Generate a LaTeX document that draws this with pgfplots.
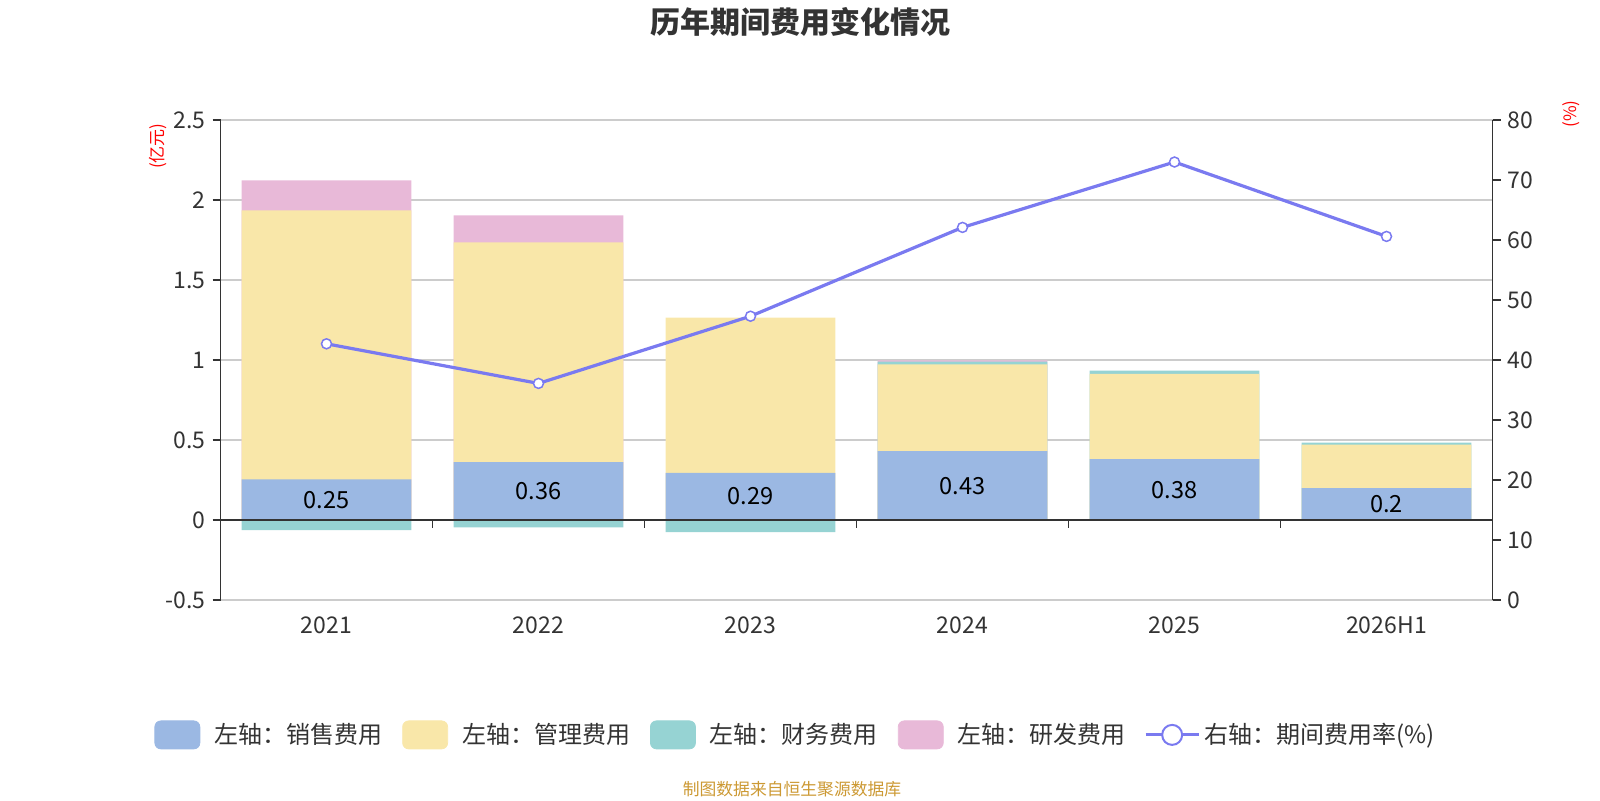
\documentclass[border=0pt]{standalone}
\usepackage{pgfplots}
\pgfplotsset{compat=1.18}
\usepackage{fontspec}
\setmainfont{Noto Sans CJK SC}
\definecolor{cS}{RGB}{155,184,227}
\definecolor{cM}{RGB}{249,231,169}
\definecolor{cF}{RGB}{150,211,211}
\definecolor{cR}{RGB}{232,185,216}
\definecolor{cL}{RGB}{122,122,240}
\definecolor{cT}{RGB}{51,51,51}
\definecolor{cG}{RGB}{204,204,204}
\definecolor{cSrc}{RGB}{204,153,51}
\begin{document}
\begin{tikzpicture}
\path[use as bounding box] (0,0) rectangle (800pt,400pt);
\pgfplotsset{
  base/.style={
    scale only axis, width=636pt, height=240pt,
    at={(110.25pt,100pt)}, anchor=south west,
    xmin=-0.5, xmax=5.5,
    tick label style={font=\fontsize{11.5}{13}\selectfont, text=cT},
    /pgf/number format/assume math mode=true,
    tick align=outside, major tick length=4pt,
    tick style={cT, line width=0.75pt},
  },
  bb/.style={ybar, bar width=0.8, bar shift=0pt, draw=none, fill=#1},
}
\begin{axis}[base,
  ymin=-0.5, ymax=2.5, ytick={-0.5,0,0.5,1,1.5,2,2.5},
  yticklabels={-0.5,0,0.5,1,1.5,2,2.5},
  axis x line*=bottom, axis y line*=left,
  x axis line style={draw=none},
  y axis line style={cT, line width=0.75pt},
  xtick={0,...,5}, xticklabels={2021,2022,2023,2024,2025,2026H1},
  every major x tick/.style={draw=none},
  xticklabel style={yshift=-1pt},
  ymajorgrids, major grid style={cG, line width=0.6pt},
]
% cumulative tops of the stacked segments
\addplot[bb=cR] coordinates {(0,2.123) (1,1.904) (3,0.998)};
\addplot[bb=cF] coordinates {(3,0.990) (4,0.933) (5,0.483)};
\addplot[bb=cM] coordinates {(0,1.935) (1,1.735) (2,1.265) (3,0.973) (4,0.914) (5,0.471)};
\addplot[bb=cS] coordinates {(0,0.254) (1,0.3625) (2,0.294) (3,0.431) (4,0.381) (5,0.200)};
\addplot[bb=cF] coordinates {(0,-0.0625) (1,-0.046) (2,-0.075)};
\addplot[draw=none, mark=none, nodes near coords, point meta=explicit symbolic,
  nodes near coords style={anchor=center, font=\fontsize{11.8}{13}\selectfont, text=black}]
  coordinates {(0,0.127)[0.25] (1,0.181)[0.36] (2,0.147)[0.29] (3,0.215)[0.43] (4,0.190)[0.38] (5,0.100)[0.2]};
\draw[cT, line width=0.75pt] (axis cs:-0.5,0) -- (axis cs:5.5,0);
\pgfplotsinvokeforeach{0.5,1.5,2.5,3.5,4.5}{\draw[cT, line width=0.75pt] (axis cs:#1,0) -- ++(0pt,-4pt);}
\end{axis}
\begin{axis}[base,
  ymin=0, ymax=80, ytick={0,10,...,80},
  axis y line*=right, axis x line=none,
  y axis line style={cT, line width=0.75pt},
  legend style={draw=none, fill=none, legend columns=-1,
    font=\fontsize{12}{14}\selectfont, text=cT,
    at={(axis description cs:0.453,-0.281)}, anchor=center,
    /tikz/every odd column/.append style={column sep=5pt},
    /tikz/every even column/.append style={column sep=8pt}},
  legend cell align=left,
]
\addplot[cL, line width=1.6pt, mark=*, mark size=2.5pt, mark options={fill=white, draw=cL, line width=0.75pt}, forget plot]
  coordinates {(0,42.7) (1,36.1) (2,47.3) (3,62.1) (4,73.0) (5,60.6)};
\addlegendimage{legend image code/.code={\fill[cS, rounded corners=3pt] (0pt,-7pt) rectangle (22.5pt,7pt);}}
\addlegendentry{左轴：销售费用}
\addlegendimage{legend image code/.code={\fill[cM, rounded corners=3pt] (0pt,-7pt) rectangle (22.5pt,7pt);}}
\addlegendentry{左轴：管理费用}
\addlegendimage{legend image code/.code={\fill[cF, rounded corners=3pt] (0pt,-7pt) rectangle (22.5pt,7pt);}}
\addlegendentry{左轴：财务费用}
\addlegendimage{legend image code/.code={\fill[cR, rounded corners=3pt] (0pt,-7pt) rectangle (22.5pt,7pt);}}
\addlegendentry{左轴：研发费用}
\addlegendimage{legend image code/.code={\path[draw=none, fill=none] (0pt,-7pt) rectangle (22.5pt,7pt); \draw[overlay, cL, line width=1.5pt] (0pt,0pt) -- (26.5pt,0pt); \draw[overlay, cL, line width=1pt, fill=white] (13.25pt,0pt) circle (5pt);}}
\addlegendentry{右轴：期间费用率(\%)}
\end{axis}
\node[font=\fontsize{15}{18}\selectfont\bfseries, text=cT] at (400pt,388.8pt) {历年期间费用变化情况};
\node[font=\fontsize{8.4}{10}\selectfont, text=cSrc] at (396pt,5.5pt) {制图数据来自恒生聚源数据库};
\node[rotate=90, text=red, font=\fontsize{8.5}{10}\selectfont] at (79pt,327pt) {(亿元)};
\node[rotate=90, text=red, font=\fontsize{8.5}{10}\selectfont] at (785.5pt,343pt) {(\%)};
\end{tikzpicture}
\end{document}
